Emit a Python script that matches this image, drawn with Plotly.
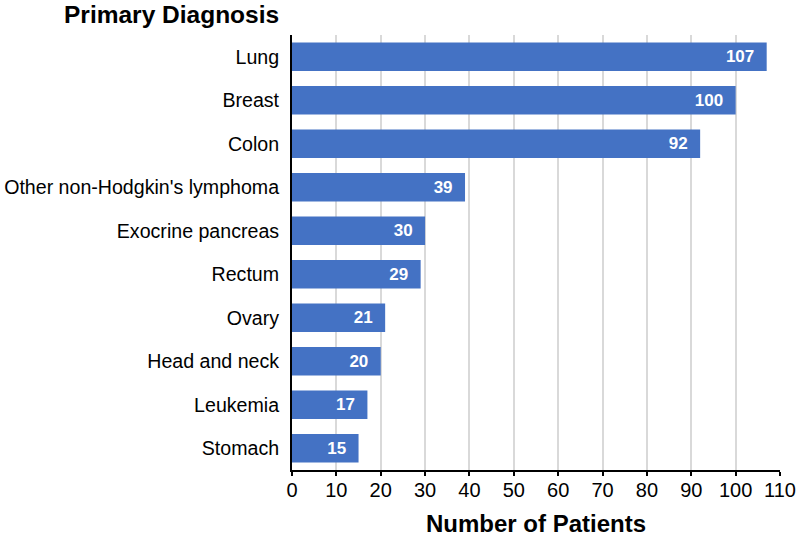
import plotly.graph_objects as go

categories = ["Lung", "Breast", "Colon", "Other non-Hodgkin's lymphoma", "Exocrine pancreas",
              "Rectum", "Ovary", "Head and neck", "Leukemia", "Stomach"]
patients = [107, 100, 92, 39, 30, 29, 21, 20, 17, 15]
x_ticks = list(range(0, 111, 10))

fig = go.Figure(go.Bar(
    x=patients, y=categories, orientation="h",
    marker=dict(color="#4472C4", line=dict(width=0)),
    width=0.66,
    text=[f"{v}\u00a0\u00a0" for v in patients], textposition="inside", insidetextanchor="end",
    textfont=dict(family="Liberation Sans, Arial", size=17, color="white", weight="bold"),
    cliponaxis=False,
))

fig.update_layout(
    width=797, height=537,
    margin=dict(l=292, r=17, t=35, b=67),
    plot_bgcolor="white", paper_bgcolor="white",
    font=dict(family="Liberation Sans, Arial", size=20, color="black"),
    showlegend=False,
    uniformtext=dict(minsize=17, mode="show"),
)
fig.update_xaxes(
    range=[0, 110], tickvals=x_ticks, ticktext=[str(t) for t in x_ticks],
    showgrid=True, gridcolor="#D9D9D9", gridwidth=2,
    showline=True, linecolor="black", linewidth=2,
    ticks="outside", ticklen=4, tickwidth=2, tickcolor="black",
    tickfont=dict(size=20), ticklabelstandoff=-3,
    title=dict(text="<b>Number of Patients</b>", font=dict(size=24), standoff=19),
    zeroline=False, automargin=False,
)
fig.update_yaxes(
    autorange="reversed",
    showline=True, linecolor="black", linewidth=2,
    ticks="", ticklabelstandoff=7,
    tickfont=dict(size=19.6), automargin=False,
)
fig.add_annotation(
    text="<b>Primary Diagnosis</b>", xref="paper", yref="paper",
    x=0, y=1.0, xanchor="right", yanchor="middle", xshift=-11, yshift=21,
    showarrow=False, font=dict(size=24.5),
)

fig.write_html("out.html", config={"displayModeBar": False},
               post_script="document.body.style.margin='0';document.body.style.overflow='hidden';")
